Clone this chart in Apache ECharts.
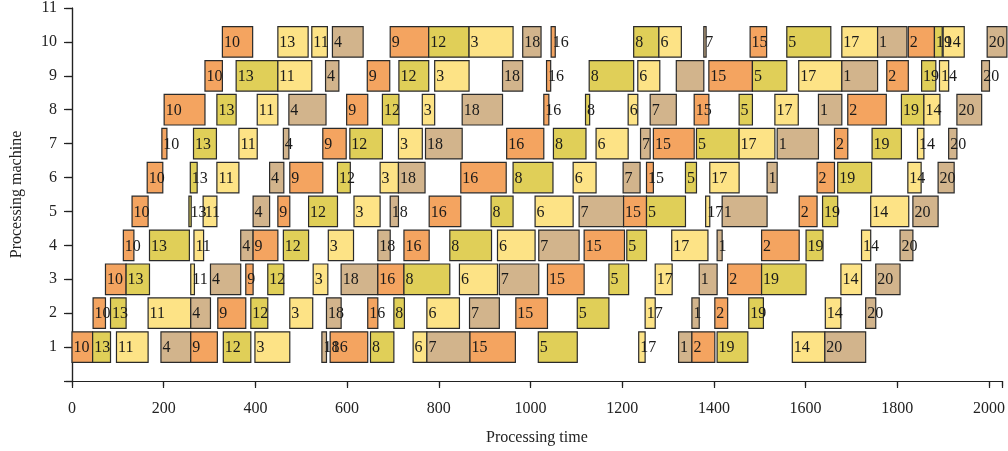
<!DOCTYPE html>
<html>
<head>
<meta charset="utf-8">
<title>Gantt chart</title>
<script src="https://cdn.jsdelivr.net/npm/echarts@6/dist/echarts.min.js"></script>
<style>
  html, body { margin: 0; padding: 0; background: #fff; }
  #chart { width: 1008px; height: 451px; }
</style>
</head>
<body>
<div id="chart"></div>
<script>
// Job processing order (identical on every machine)
const jobs = [10, 13, 11, 4, 9, 12, 3, 18, 16, 8, 6, 7, 15, 5, 17, 1, 2, 19, 14, 20];

// [start, end] of each job, in the order above, per machine
const machine1 = [[0,45],[45,84],[97,166],[194,259],[259,317],[330,390],[399,475],[545,555],[563,645],[651,702],[744,774],[774,868],[868,967],[1017,1102],[1236,1250],[1323,1352],[1352,1402],[1407,1474],[1571,1642],[1642,1731]];
const machine2 = [[46,73],[84,118],[166,259],[259,302],[318,379],[390,427],[475,525],[555,587],[645,667],[702,725],[774,845],[867,932],[968,1037],[1102,1171],[1250,1272],[1352,1368],[1402,1430],[1476,1508],[1643,1677],[1731,1753]];
const machine3 = [[73,118],[118,169],[259,267],[302,368],[379,395],[427,462],[526,558],[587,667],[667,724],[724,824],[845,928],[932,1018],[1037,1117],[1171,1214],[1272,1309],[1368,1407],[1430,1504],[1504,1601],[1677,1722],[1753,1806]];
const machine4 = [[112,135],[169,256],[266,287],[368,395],[395,449],[461,516],[559,614],[667,694],[724,779],[824,915],[928,1010],[1018,1106],[1117,1205],[1210,1253],[1308,1387],[1407,1418],[1504,1586],[1601,1638],[1722,1742],[1806,1834]];
const machine5 = [[131,166],[255,260],[286,316],[395,431],[449,475],[516,579],[615,672],[694,712],[779,848],[914,962],[1010,1093],[1106,1203],[1203,1253],[1253,1338],[1382,1391],[1418,1516],[1586,1625],[1637,1670],[1742,1825],[1834,1889]];
const machine6 = [[164,198],[258,273],[316,364],[431,462],[475,547],[579,607],[672,712],[712,770],[848,947],[962,1049],[1093,1143],[1202,1239],[1253,1268],[1338,1362],[1391,1455],[1516,1538],[1625,1663],[1670,1744],[1823,1852],[1889,1924]];
const machine7 = [[196,207],[265,315],[364,404],[461,473],[547,598],[606,677],[712,764],[771,851],[948,1029],[1050,1121],[1143,1213],[1240,1261],[1268,1357],[1362,1455],[1455,1533],[1538,1628],[1663,1692],[1745,1809],[1844,1858],[1912,1930]];
const machine8 = [[201,290],[316,358],[404,449],[473,554],[599,645],[677,713],[764,791],[851,939],[1029,1040],[1120,1129],[1213,1234],[1261,1318],[1357,1389],[1455,1484],[1533,1584],[1628,1679],[1692,1776],[1809,1858],[1858,1893],[1930,1984]];
const machine9 = [[290,328],[358,449],[449,523],[553,582],[644,693],[713,778],[791,866],[939,983],[1035,1044],[1128,1225],[1234,1282],[1318,1378],[1389,1484],[1484,1559],[1585,1679],[1679,1757],[1777,1824],[1853,1884],[1892,1912],[1984,2001]];
const machine10 = [[328,394],[449,515],[523,557],[568,635],[694,778],[778,866],[866,962],[983,1023],[1045,1054],[1225,1280],[1280,1329],[1378,1383],[1479,1515],[1559,1655],[1679,1757],[1757,1821],[1824,1881],[1881,1898],[1900,1946],[1996,2039]];

const machines = [machine1, machine2, machine3, machine4, machine5, machine6, machine7, machine8, machine9, machine10];

// Axis ticks
const timeTicks = [0, 200, 400, 600, 800, 1000, 1200, 1400, 1600, 1800, 2000];
const machineTicks = [1, 2, 3, 4, 5, 6, 7, 8, 9, 10, 11];

// Fill tones cycle with the position of a job in the sequence
const palette = ['#F4A460', '#E0CF58', '#FDE386', '#D2B48C'];
// "machine-job" keys with a different tone, and bars drawn without a label
const toneOverride = { '10-13': 2 };
const unlabeled = ['9-7'];

const barHeight = 0.9;
const serif = '"Liberation Serif", "DejaVu Serif", serif';

const bars = [];
machines.forEach(function (ops, m) {
  ops.forEach(function (op, k) {
    bars.push([op[0], op[1], m + 1, k, jobs[k]]);
  });
});

function renderItem(params, api) {
  const machine = api.value(2);
  const k = api.value(3);
  const job = api.value(4);
  const p0 = api.coord([api.value(0), machine]);
  const p1 = api.coord([api.value(1), machine]);
  const h = api.size([0, barHeight])[1];
  const key = machine + '-' + job;
  const tone = (key in toneOverride) ? toneOverride[key] : k % 4;
  const children = [{
    type: 'rect',
    shape: { x: p0[0], y: p0[1] - h / 2, width: p1[0] - p0[0], height: h },
    style: { fill: palette[tone], stroke: '#2a2a2a', lineWidth: 1.2 }
  }];
  if (unlabeled.indexOf(key) < 0) {
    children.push({
      type: 'text',
      z2: 10,
      style: {
        text: String(job),
        x: p0[0] + 1.5,
        y: p0[1] + 1,
        align: 'left',
        verticalAlign: 'middle',
        font: '16px ' + serif,
        fill: '#1a1a1a'
      }
    });
  }
  return { type: 'group', children: children };
}

const chart = echarts.init(document.getElementById('chart'), null, { renderer: 'canvas' });

const axisColor = '#222';
chart.setOption({
  animation: false,
  grid: { left: 72, right: 6, top: 8, bottom: 69 },
  xAxis: [{
    type: 'value',
    min: 0,
    max: 2028,
    interval: 200,
    position: 'bottom',
    name: 'Processing time',
    nameLocation: 'middle',
    nameGap: 49,
    nameTextStyle: { fontFamily: serif, fontSize: 16, color: axisColor },
    axisLine: { show: true, lineStyle: { color: axisColor, width: 1.2 } },
    axisTick: { show: true, inside: false, length: 7, lineStyle: { color: axisColor, width: 1.2 } },
    axisLabel: {
      fontFamily: serif, fontSize: 16, color: axisColor, margin: 20,
      formatter: function (v) { return timeTicks.indexOf(v) >= 0 ? String(v) : ''; }
    },
    splitLine: { show: false }
  }, {
    type: 'value',
    min: 0,
    max: 2028,
    interval: 200,
    position: 'top',
    axisLine: { show: true, lineStyle: { color: axisColor, width: 1.2 } },
    axisTick: { show: true, inside: true, length: 5, lineStyle: { color: axisColor, width: 1.2 } },
    axisLabel: { show: false },
    splitLine: { show: false }
  }],
  yAxis: [{
    type: 'value',
    min: 0,
    max: 11,
    interval: 1,
    position: 'left',
    name: 'Processing machine',
    nameLocation: 'middle',
    nameGap: 47,
    nameTextStyle: { fontFamily: serif, fontSize: 16, color: axisColor },
    axisLine: { show: true, lineStyle: { color: axisColor, width: 1.2 } },
    axisTick: { show: true, inside: false, length: 8, lineStyle: { color: axisColor, width: 1.2 } },
    axisLabel: {
      fontFamily: serif, fontSize: 16, color: axisColor, margin: 15,
      formatter: function (v) { return machineTicks.indexOf(v) >= 0 ? String(v) : ''; }
    },
    splitLine: { show: false }
  }, {
    type: 'value',
    min: 0,
    max: 11,
    interval: 1,
    position: 'right',
    axisLine: { show: true, lineStyle: { color: axisColor, width: 1.2 } },
    axisTick: { show: true, inside: true, length: 6, lineStyle: { color: axisColor, width: 1.2 } },
    axisLabel: { show: false },
    splitLine: { show: false }
  }],
  series: [{
    type: 'custom',
    renderItem: renderItem,
    clip: false,
    encode: { x: [0, 1], y: 2 },
    data: bars
  }]
});
</script>
</body>
</html>
